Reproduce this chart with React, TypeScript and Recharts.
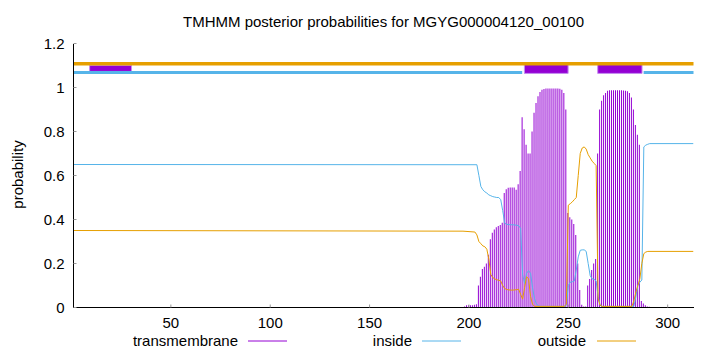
import React from 'react';
import { ComposedChart, Bar, Line, XAxis, YAxis, ReferenceLine, ReferenceArea } from 'recharts';

const title = 'TMHMM posterior probabilities for MGYG000004120_00100';
const residueCount = 313;
const xTicks = [50, 100, 150, 200, 250, 300];
const yTicks = [0, 0.2, 0.4, 0.6, 0.8, 1, 1.2];

// transmembrane posterior probability, one value per residue starting at tmStart
const tmStart = 198;
const tmValues = [
  0.005, 0.01, 0.01, 0.01, 0.01, 0.012, 0.015, // 198-204
  0.10, 0.14, 0.175, 0.185, 0.20, 0.24, 0.31, 0.34, 0.355, 0.365, // 205-214
  0.37, 0.375, 0.385, 0.52, 0.538, 0.544, 0.546, 0.546, 0.545, 0.535, // 215-224
  0.56, 0.62, 0.865, 0.81, 0.74, 0.70, 0.70, 0.80, 0.885, 0.93, // 225-234
  0.96, 0.98, 0.99, 0.993, 0.995, 0.995, 0.995, 0.995, 0.995, 0.995, // 235-244
  0.995, 0.994, 0.99, 0.975, 0.90, 0.43, 0.41, 0.40, 0.38, 0.33, // 245-254
  0.20, 0.08, 0.012, 0.005, 0.005, 0.10, 0.13, 0.17, 0.20, 0.22, // 255-264
  0.70, 0.90, 0.94, 0.965, 0.975, 0.985, 0.987, 0.988, 0.988, 0.988, // 265-274
  0.988, 0.988, 0.987, 0.986, 0.985, 0.983, 0.975, 0.955, 0.90, 0.83, // 275-284
  0.785, 0.74, 0.03, 0.018, 0.01, 0.005, 0.003, // 285-291
];

// inside probability (residue, value)
const insidePos = [1, 204, 205, 206, 207, 208, 209, 210, 211, 212, 213, 214, 215, 216, 217, 218, 219, 220, 221, 222, 223, 224, 225, 226, 227, 228, 229, 230, 231, 232, 233, 234, 235, 236, 248, 249, 250, 251, 252, 253, 254, 255, 256, 257, 258, 259, 260, 261, 262, 263, 264, 265, 266, 267, 283, 284, 285, 286, 287, 288, 289, 290, 291, 313];
const insideVal = [0.65, 0.649, 0.60, 0.55, 0.535, 0.526, 0.52, 0.512, 0.508, 0.504, 0.502, 0.50, 0.50, 0.49, 0.44, 0.383, 0.378, 0.377, 0.376, 0.376, 0.375, 0.374, 0.372, 0.36, 0.15, 0.11, 0.155, 0.168, 0.155, 0.09, 0.04, 0.015, 0.008, 0.005, 0.005, 0.01, 0.10, 0.115, 0.117, 0.12, 0.17, 0.23, 0.26, 0.262, 0.262, 0.255, 0.20, 0.145, 0.13, 0.128, 0.12, 0.05, 0.01, 0.005, 0.005, 0.05, 0.10, 0.115, 0.125, 0.73, 0.738, 0.742, 0.745, 0.745];

// outside probability (residue, value)
const outsidePos = [1, 197, 203, 204, 205, 206, 207, 208, 209, 210, 211, 212, 213, 214, 215, 216, 217, 218, 219, 220, 221, 222, 223, 224, 225, 226, 227, 228, 229, 230, 231, 232, 233, 248, 249, 250, 251, 252, 253, 254, 255, 256, 257, 258, 259, 260, 261, 262, 263, 264, 265, 266, 267, 282, 283, 284, 285, 286, 287, 288, 289, 290, 313];
const outsideVal = [0.35, 0.347, 0.343, 0.33, 0.30, 0.29, 0.28, 0.276, 0.265, 0.22, 0.15, 0.136, 0.13, 0.126, 0.124, 0.12, 0.10, 0.086, 0.082, 0.08, 0.079, 0.079, 0.08, 0.081, 0.083, 0.06, 0.038, 0.09, 0.14, 0.13, 0.05, 0.015, 0.005, 0.005, 0.015, 0.465, 0.472, 0.48, 0.49, 0.50, 0.60, 0.70, 0.725, 0.73, 0.72, 0.695, 0.68, 0.665, 0.655, 0.645, 0.04, 0.01, 0.005, 0.005, 0.03, 0.07, 0.10, 0.13, 0.20, 0.245, 0.252, 0.255, 0.255];

// topology annotation above the curves
const insideLevel = 1.068;
const outsideLevel = 1.108;
const insideBands = [[1, 226.8], [287.9, 313]];
const outsideBands = [[1, 313]];
const helixBoxes = [[227.9, 249.9], [264.8, 287.1]];
const helixBoxY = [1.064, 1.112];
const extraBoxes = [[9.1, 30.2]];
const extraBoxY = [1.073, 1.101];

const C_TM = '#9400D3';
const C_IN = '#56B4E9';
const C_OUT = '#E69F00';
const FONT = '"Liberation Sans", Arial, Helvetica, sans-serif';

const W = 720;
const H = 352;

export default function App() {
  const tmMap = new Map<number, number>();
  tmValues.forEach((v, i) => tmMap.set(tmStart + i, v));
  const inMap = new Map<number, number>();
  insidePos.forEach((p, i) => inMap.set(p, insideVal[i]));
  const outMap = new Map<number, number>();
  outsidePos.forEach((p, i) => outMap.set(p, outsideVal[i]));

  const rows = Array.from({ length: residueCount }, (_, i) => {
    const pos = i + 1;
    return { pos, tm: tmMap.get(pos), inside: inMap.get(pos), outside: outMap.get(pos) };
  });

  const tickStyle = { fontSize: 15, fill: '#000', fontFamily: FONT };
  const axisLine = { stroke: '#000', strokeWidth: 1, shapeRendering: 'crispEdges' };
  const tickLine = { stroke: '#999', strokeWidth: 1 };

  const legend = [
    { label: 'transmembrane', color: C_TM, textRight: 238, lineLeft: 248 },
    { label: 'inside', color: C_IN, textRight: 412, lineLeft: 422 },
    { label: 'outside', color: C_OUT, textRight: 586, lineLeft: 597 },
  ];

  return (
    <div style={{ position: 'absolute', left: 0, top: 0, width: W, height: H, background: '#fff', fontFamily: FONT, overflow: 'hidden' }}>
      <ComposedChart width={W} height={H} data={rows} margin={{ top: 43.5, right: 26.5, bottom: 0, left: 0 }}>
        <XAxis xAxisId="b" dataKey="pos" type="number" domain={[1, residueCount]} ticks={xTicks} interval={0}
          allowDataOverflow height={44.5} tickSize={-3} tickMargin={13} tick={tickStyle} axisLine={axisLine} tickLine={tickLine} />
        <XAxis xAxisId="t" orientation="top" dataKey="pos" type="number" domain={[1, residueCount]} ticks={xTicks} interval={0}
          allowDataOverflow height={0} tickSize={-3} tick={false} axisLine={axisLine} tickLine={tickLine} />
        <YAxis yAxisId="l" type="number" domain={[0, 1.2]} ticks={yTicks} interval={0} allowDataOverflow width={73.5}
          tickSize={-3} tickMargin={12} tick={tickStyle} axisLine={axisLine} tickLine={tickLine} />
        <YAxis yAxisId="r" orientation="right" type="number" domain={[0, 1.2]} ticks={yTicks} interval={0} allowDataOverflow width={0}
          tickSize={-3} tick={false} axisLine={axisLine} tickLine={tickLine} />

        <Bar xAxisId="b" yAxisId="l" dataKey="tm" fill={C_TM} barSize={1} isAnimationActive={false} />
        <Line xAxisId="b" yAxisId="l" dataKey="inside" type="linear" stroke={C_IN} strokeWidth={1} dot={false} activeDot={false} connectNulls isAnimationActive={false} />
        <Line xAxisId="b" yAxisId="l" dataKey="outside" type="linear" stroke={C_OUT} strokeWidth={1} dot={false} activeDot={false} connectNulls isAnimationActive={false} />

        {outsideBands.map(([a, b], i) => (
          <ReferenceLine key={'o' + i} xAxisId="b" yAxisId="l" segment={[{ x: a, y: outsideLevel }, { x: b, y: outsideLevel }]} stroke={C_OUT} strokeWidth={3.5} />
        ))}
        {insideBands.map(([a, b], i) => (
          <ReferenceLine key={'i' + i} xAxisId="b" yAxisId="l" segment={[{ x: a, y: insideLevel }, { x: b, y: insideLevel }]} stroke={C_IN} strokeWidth={3} />
        ))}
        {helixBoxes.map(([a, b], i) => (
          <ReferenceArea key={'h' + i} xAxisId="b" yAxisId="l" x1={a} x2={b} y1={helixBoxY[0]} y2={helixBoxY[1]} fill={C_TM} fillOpacity={1} stroke="#c58ef0" strokeWidth={1} />
        ))}
        {extraBoxes.map(([a, b], i) => (
          <ReferenceArea key={'e' + i} xAxisId="b" yAxisId="l" x1={a} x2={b} y1={extraBoxY[0]} y2={extraBoxY[1]} fill={C_TM} fillOpacity={1} stroke="#c58ef0" strokeWidth={1} />
        ))}
      </ComposedChart>

      <div style={{ position: 'absolute', left: 73.5, top: 12.5, width: 620, textAlign: 'center', fontSize: 15, color: '#000', whiteSpace: 'nowrap' }}>{title}</div>

      <div style={{ position: 'absolute', left: 17 - 100, top: 175 - 8.6, width: 200, textAlign: 'center', fontSize: 15, color: '#000', transform: 'rotate(-90deg)', transformOrigin: '50% 50%', whiteSpace: 'nowrap' }}>probability</div>

      {legend.map((e) => (
        <div key={e.label} style={{ position: 'absolute', left: e.textRight - 200, top: 331.5, width: 200, textAlign: 'right', fontSize: 15, color: '#000', whiteSpace: 'nowrap' }}>{e.label}</div>
      ))}
      <svg width={W} height={20} style={{ position: 'absolute', left: 0, top: 332 }}>
        {legend.map((e) => (
          <line key={e.label} x1={e.lineLeft} x2={e.lineLeft + 39} y1={9} y2={9} stroke={e.color} strokeWidth={1} />
        ))}
      </svg>
    </div>
  );
}
